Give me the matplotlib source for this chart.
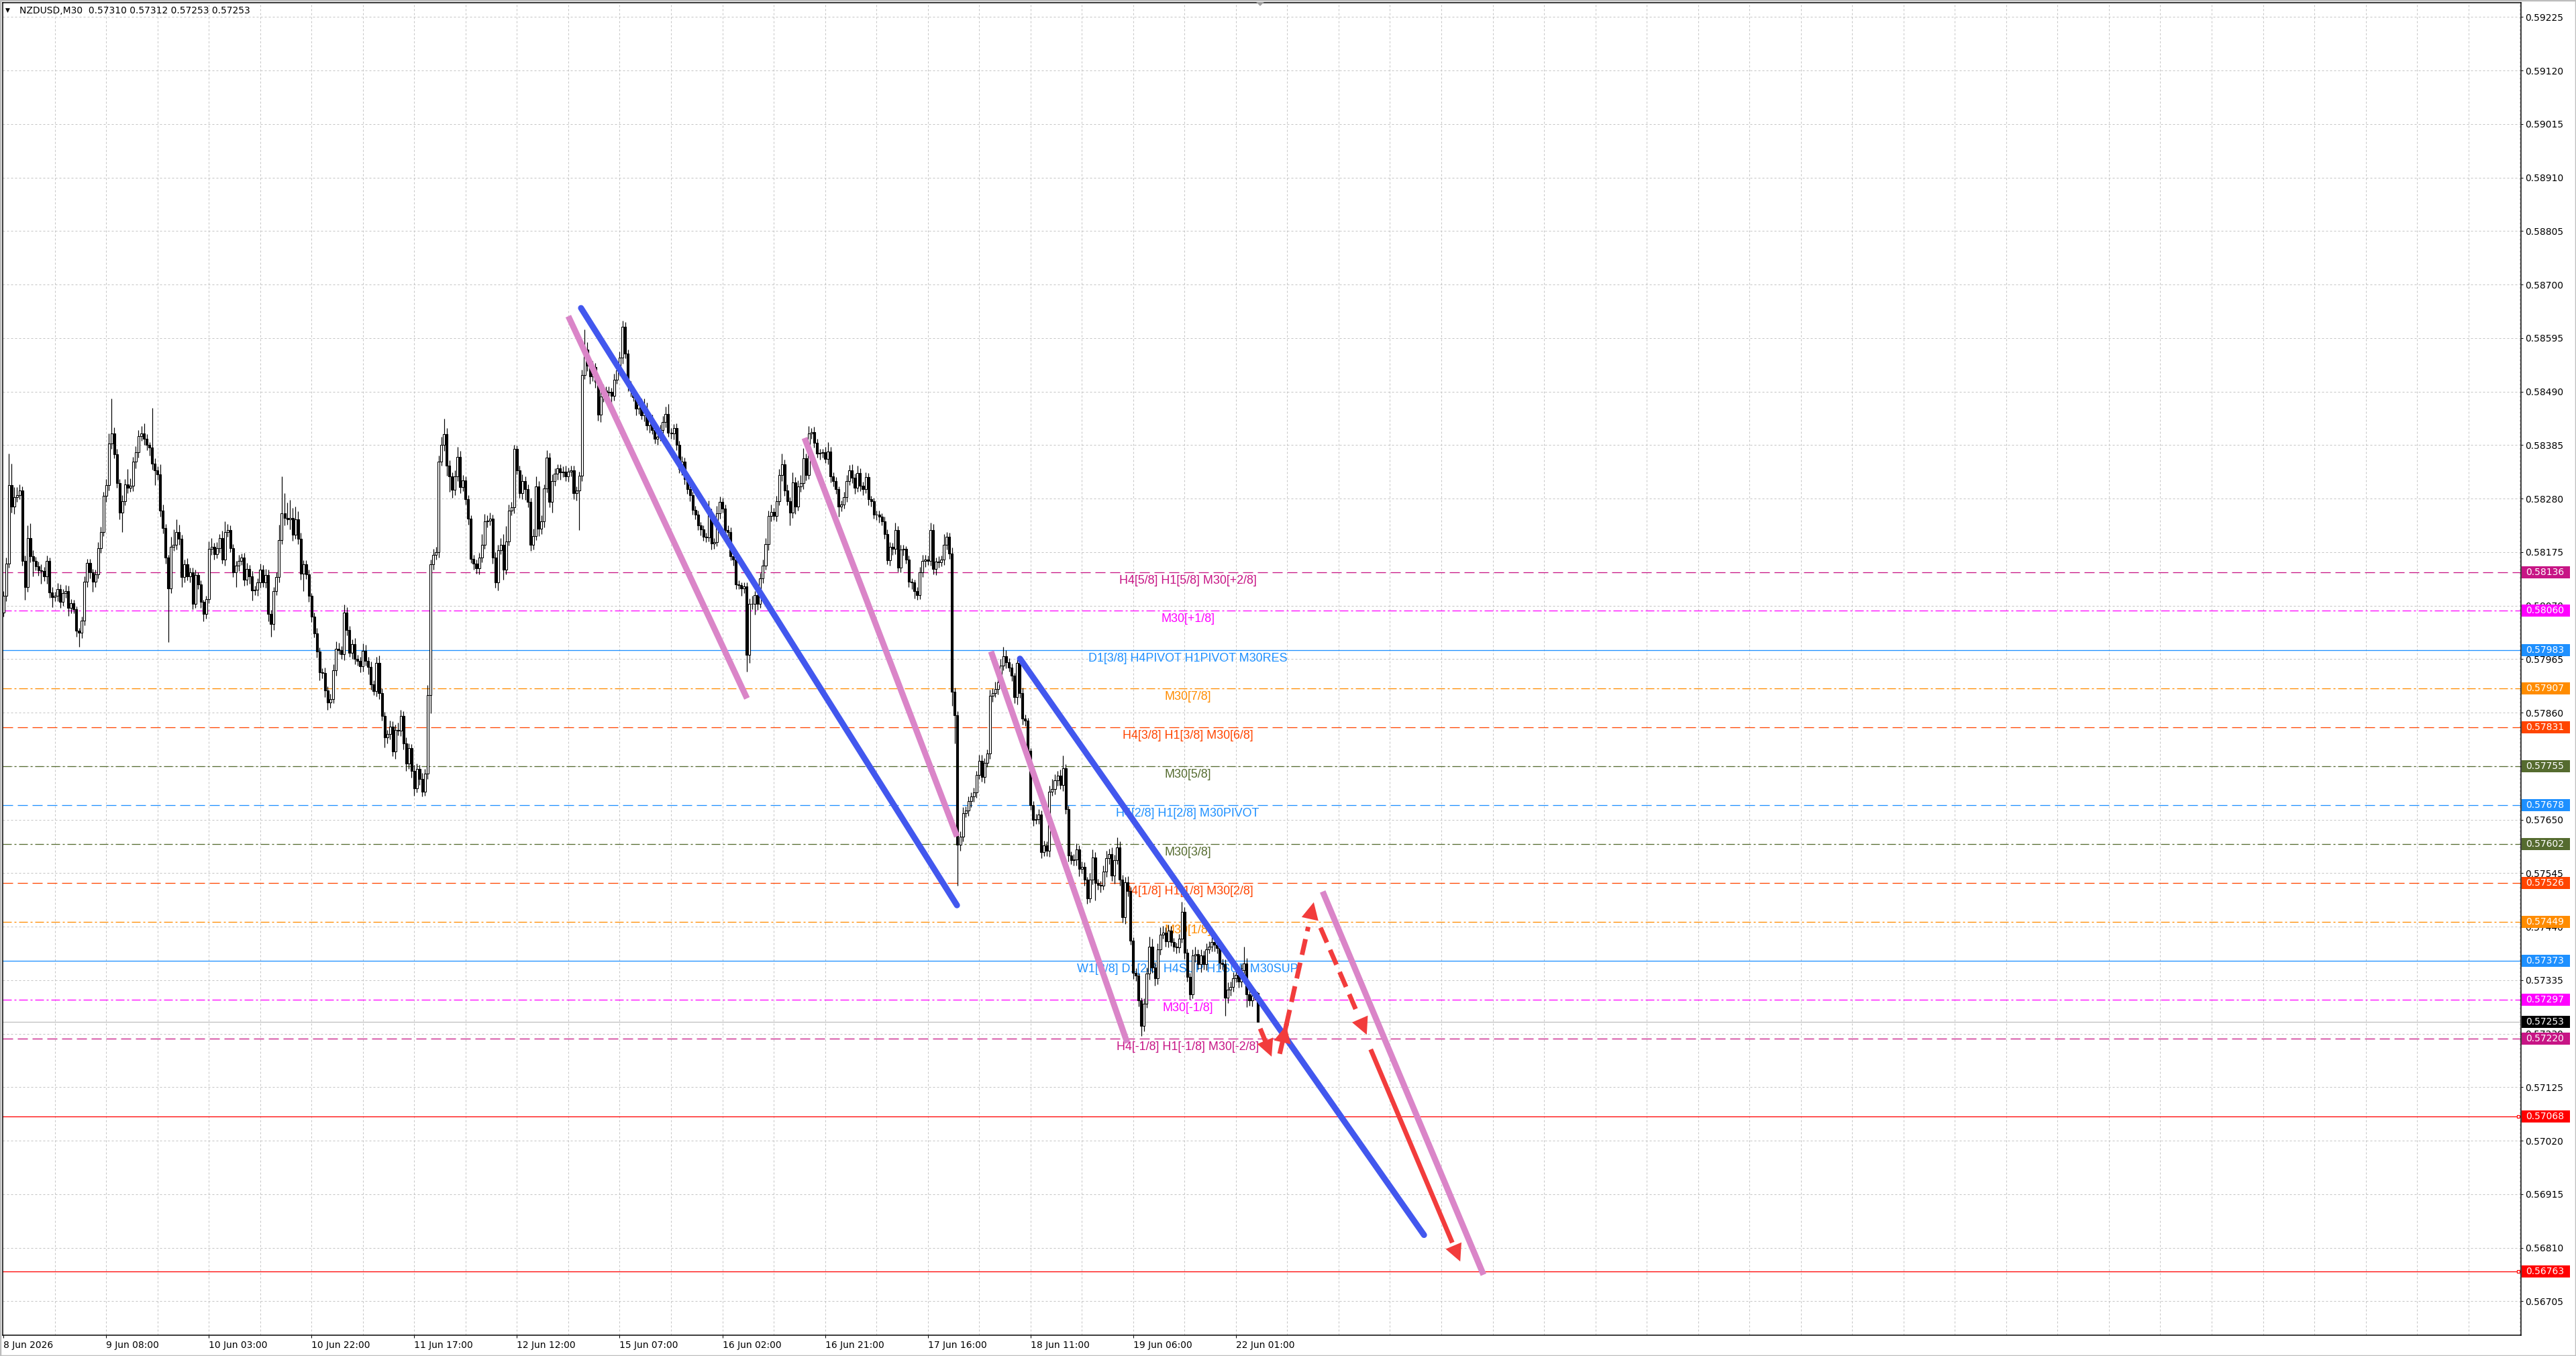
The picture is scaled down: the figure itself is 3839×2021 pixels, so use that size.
import matplotlib
matplotlib.use("Agg")
import matplotlib.pyplot as plt
import matplotlib.transforms as mtransforms
from matplotlib.patches import Rectangle, Polygon, FancyArrowPatch

plt.rcParams['font.family'] = ['DejaVu Sans']
plt.rcParams['lines.scale_dashes'] = False

W, H, DPI = 3839, 2021, 100
POINT = 1e-5

# ---------------- data ----------------
header_text = "NZDUSD,M30  0.57310 0.57312 0.57253 0.57253"

first_open = 58057   # points (x 1e-5)
closes = [
    58089, 58152, 58306, 58265, 58283, 58287, 58296, 58158, 58107, 58202,
    58167, 58158, 58147, 58139, 58138, 58128, 58158, 58096, 58087, 58089,
    58102, 58077, 58095, 58099, 58065, 58075, 58063, 58021, 58017, 58040,
    58117, 58154, 58136, 58117, 58131, 58183, 58215, 58286, 58306, 58388,
    58408, 58367, 58311, 58252, 58275, 58308, 58301, 58305, 58352, 58371,
    58402, 58408, 58398, 58385, 58380, 58349, 58336, 58327, 58256, 58222,
    58164, 58104, 58185, 58190, 58214, 58201, 58126, 58151, 58128, 58136,
    58073, 58130, 58112, 58077, 58054, 58083, 58181, 58185, 58171, 58183,
    58202, 58161, 58215, 58218, 58183, 58136, 58148, 58158, 58164, 58121,
    58142, 58128, 58100, 58101, 58115, 58140, 58115, 58130, 58054, 58034,
    58099, 58126, 58199, 58251, 58242, 58239, 58242, 58209, 58240, 58201,
    58133, 58151, 58132, 58089, 58048, 58016, 57980, 57939, 57938, 57903,
    57880, 57887, 57943, 57985, 57983, 57975, 58057, 58022, 57977, 57994,
    57965, 57961, 57951, 57981, 57961, 57950, 57915, 57902, 57957, 57898,
    57853, 57812, 57818, 57833, 57784, 57826, 57824, 57853, 57800, 57760,
    57790, 57745, 57712, 57750, 57730, 57705, 57740, 57894, 58151, 58169,
    58175, 58353, 58386, 58407, 58345, 58323, 58297, 58323, 58362, 58303,
    58316, 58279, 58241, 58162, 58153, 58143, 58165, 58190, 58235, 58237,
    58241, 58165, 58115, 58179, 58190, 58141, 58196, 58257, 58263, 58378,
    58335, 58291, 58315, 58298, 58273, 58190, 58206, 58304, 58221, 58235,
    58300, 58360, 58273, 58315, 58329, 58339, 58332, 58333, 58323, 58333,
    58335, 58291, 58296, 58325, 58523, 58572, 58541, 58520, 58538, 58509,
    58445, 58480, 58492, 58488, 58490, 58482, 58513, 58532, 58557, 58617,
    58564, 58501, 58492, 58479, 58456, 58465, 58443, 58456, 58424, 58437,
    58415, 58398, 58401, 58415, 58430, 58446, 58409, 58408, 58418, 58385,
    58338, 58353, 58318, 58298, 58287, 58258, 58248, 58228, 58220, 58205,
    58204, 58251, 58192, 58195, 58251, 58274, 58260, 58218, 58215, 58167,
    58161, 58112, 58110, 58104, 58108, 57973, 58074, 58073, 58091, 58074,
    58124, 58148, 58191, 58246, 58254, 58246, 58275, 58326, 58348, 58296,
    58275, 58252, 58312, 58265, 58304, 58311, 58359, 58326, 58408, 58411,
    58390, 58368, 58370, 58371, 58358, 58373, 58324, 58314, 58298, 58265,
    58268, 58283, 58314, 58336, 58321, 58301, 58330, 58305, 58299, 58322,
    58279, 58275, 58249, 58248, 58245, 58236, 58211, 58159, 58185, 58181,
    58218, 58145, 58180, 58181, 58160, 58117, 58115, 58099, 58091, 58136,
    58158, 58160, 58158, 58218, 58142, 58157, 58155, 58160, 58190, 58205,
    58172, 57901, 57855, 57601, 57617, 57663, 57668, 57686, 57695, 57703,
    57738, 57765, 57734, 57761, 57780, 57893, 57898, 57906, 57920, 57953,
    57971, 57959, 57948, 57932, 57891, 57958, 57899, 57848, 57844, 57785,
    57679, 57650, 57651, 57660, 57586, 57599, 57589, 57705, 57710, 57727,
    57736, 57718, 57751, 57671, 57580, 57570, 57572, 57592, 57554, 57558,
    57532, 57495, 57533, 57576, 57526, 57522, 57520, 57548, 57574, 57583,
    57540, 57571, 57595, 57533, 57458, 57527, 57510, 57413, 57350, 57344,
    57295, 57245, 57289, 57348, 57401, 57360, 57339, 57395, 57424, 57429,
    57411, 57432, 57410, 57401, 57399, 57416, 57469, 57389, 57342, 57307,
    57383, 57386, 57366, 57383, 57366, 57395, 57401, 57410, 57404, 57398,
    57369, 57366, 57300, 57316, 57322, 57339, 57345, 57332, 57354, 57368,
    57307, 57295, 57305, 57310, 57253,
]
wick_up = [
    10, 12, 63, 43, 20, 15, 12, 8, 10, 25,
    30, 12, 8, 10, 12, 8, 10, 6, 10, 8,
    12, 10, 8, 12, 10, 8, 6, 5, 5, 8,
    10, 8, 8, 6, 10, 12, 10, 8, 12, 20,
    69, 12, 10, 8, 12, 10, 30, 15, 10, 12,
    12, 15, 20, 8, 6, 78, 10, 8, 20, 12,
    8, 6, 20, 30, 25, 15, 8, 10, 12, 8,
    8, 10, 6, 8, 5, 6, 15, 18, 8, 12,
    8, 15, 20, 12, 10, 8, 10, 12, 8, 10,
    12, 8, 10, 8, 8, 12, 10, 12, 10, 8,
    8, 10, 30, 73, 40, 30, 35, 20, 25, 15,
    12, 8, 8, 8, 6, 8, 10, 8, 8, 10,
    8, 10, 12, 15, 12, 8, 15, 10, 8, 10,
    12, 8, 8, 15, 12, 8, 10, 8, 12, 15,
    10, 8, 8, 12, 10, 10, 15, 12, 10, 12,
    10, 8, 12, 10, 8, 12, 10, 20, 10, 12,
    10, 12, 15, 30, 12, 10, 8, 12, 20, 12,
    10, 8, 8, 6, 8, 8, 8, 20, 15, 10,
    12, 8, 10, 10, 12, 20, 30, 12, 10, 8,
    6, 10, 12, 8, 10, 8, 15, 20, 10, 12,
    8, 15, 10, 12, 10, 8, 8, 10, 12, 8,
    10, 10, 8, 8, 10, 40, 15, 10, 12, 8,
    8, 10, 12, 8, 10, 8, 12, 10, 12, 12,
    10, 8, 10, 8, 12, 10, 12, 20, 12, 8,
    8, 10, 8, 10, 12, 15, 20, 10, 8, 10,
    8, 10, 8, 8, 10, 6, 8, 8, 6, 8,
    8, 25, 10, 8, 15, 10, 8, 8, 10, 8,
    6, 8, 8, 6, 8, 8, 10, 15, 8, 10,
    10, 12, 12, 10, 15, 8, 10, 12, 20, 8,
    12, 8, 20, 10, 12, 15, 20, 10, 15, 8,
    10, 8, 8, 6, 10, 18, 8, 8, 8, 6,
    8, 10, 12, 10, 12, 8, 15, 10, 8, 10,
    8, 6, 6, 8, 8, 6, 8, 8, 10, 8,
    15, 8, 10, 8, 6, 8, 6, 6, 8, 10,
    12, 10, 8, 15, 12, 8, 10, 8, 20, 10,
    8, 12, 8, 8, 10, 12, 8, 10, 8, 10,
    8, 12, 12, 10, 8, 12, 10, 15, 10, 12,
    18, 12, 8, 8, 6, 8, 8, 10, 8, 6,
    6, 8, 10, 10, 8, 10, 8, 12, 20, 12,
    10, 12, 25, 8, 6, 8, 10, 12, 8, 10,
    8, 6, 12, 15, 10, 8, 8, 12, 15, 10,
    12, 10, 20, 12, 8, 10, 12, 8, 6, 8,
    6, 6, 10, 12, 20, 15, 10, 12, 15, 12,
    10, 12, 10, 8, 8, 10, 20, 10, 8, 8,
    12, 15, 10, 12, 10, 12, 10, 15, 12, 10,
    8, 8, 10, 15, 10, 12, 10, 8, 12, 33,
    10, 8, 6, 8, 2,
]
wick_dn = [
    8, 10, 8, 12, 15, 10, 8, 10, 25, 10,
    12, 30, 8, 10, 25, 10, 15, 10, 20, 8,
    10, 12, 8, 10, 15, 10, 8, 12, 28, 10,
    8, 10, 12, 20, 10, 8, 10, 8, 12, 10,
    10, 8, 10, 12, 38, 8, 10, 8, 10, 12,
    10, 8, 12, 10, 15, 12, 30, 10, 12, 10,
    12, 105, 10, 8, 10, 12, 20, 10, 8, 12,
    10, 8, 10, 12, 15, 10, 8, 12, 10, 8,
    10, 8, 12, 10, 8, 10, 30, 10, 8, 12,
    10, 15, 20, 10, 12, 10, 8, 10, 15, 25,
    12, 8, 10, 8, 15, 10, 20, 12, 8, 10,
    12, 35, 10, 12, 10, 8, 12, 15, 10, 12,
    15, 10, 8, 10, 8, 10, 12, 10, 8, 12,
    10, 8, 12, 10, 8, 15, 10, 8, 10, 12,
    8, 20, 12, 10, 10, 15, 8, 10, 12, 15,
    10, 12, 15, 8, 12, 10, 8, 10, 35, 10,
    8, 10, 8, 12, 20, 30, 15, 10, 8, 12,
    8, 10, 12, 8, 12, 10, 12, 10, 8, 12,
    10, 12, 10, 15, 8, 20, 10, 8, 10, 12,
    8, 10, 12, 20, 10, 12, 10, 8, 15, 10,
    12, 8, 10, 20, 10, 12, 15, 10, 8, 10,
    10, 12, 15, 78, 10, 8, 10, 15, 10, 12,
    12, 15, 10, 12, 10, 15, 10, 8, 10, 12,
    8, 10, 12, 8, 12, 10, 8, 12, 10, 15,
    8, 10, 12, 8, 12, 10, 8, 10, 12, 10,
    8, 12, 10, 8, 12, 10, 8, 10, 12, 8,
    10, 8, 12, 10, 8, 10, 8, 12, 10, 8,
    12, 10, 8, 15, 10, 33, 15, 10, 20, 12,
    8, 10, 8, 12, 10, 8, 10, 8, 12, 10,
    8, 25, 10, 15, 8, 10, 12, 10, 8, 10,
    10, 8, 12, 10, 8, 10, 12, 10, 8, 20,
    10, 8, 10, 8, 10, 12, 8, 10, 12, 8,
    12, 10, 8, 10, 12, 8, 10, 8, 10, 12,
    10, 8, 10, 12, 8, 10, 12, 15, 10, 8,
    10, 12, 8, 10, 10, 12, 10, 8, 10, 10,
    10, 27, 55, 80, 12, 10, 8, 10, 12, 10,
    10, 8, 10, 12, 8, 10, 12, 8, 10, 12,
    10, 12, 8, 10, 12, 15, 10, 12, 10, 8,
    10, 12, 8, 10, 12, 8, 10, 12, 8, 10,
    10, 8, 12, 10, 12, 8, 10, 12, 15, 10,
    12, 10, 8, 10, 35, 10, 12, 8, 10, 12,
    10, 15, 8, 12, 10, 12, 10, 8, 12, 10,
    12, 20, 10, 8, 12, 10, 15, 12, 10, 8,
    10, 12, 8, 10, 12, 10, 8, 12, 10, 10,
    8, 12, 10, 15, 10, 12, 8, 10, 12, 10,
    12, 10, 35, 10, 12, 10, 8, 12, 10, 12,
    25, 10, 12, 8, 0,
]

time_labels = ["8 Jun 2026", "9 Jun 08:00", "10 Jun 03:00", "10 Jun 22:00",
               "11 Jun 17:00", "12 Jun 12:00", "15 Jun 07:00", "16 Jun 02:00",
               "16 Jun 21:00", "17 Jun 16:00", "18 Jun 11:00", "19 Jun 06:00",
               "22 Jun 01:00"]
bars_per_label = 38

price_ticks = [0.59225, 0.59120, 0.59015, 0.58910, 0.58805, 0.58700, 0.58595,
               0.58490, 0.58385, 0.58280, 0.58175, 0.58070, 0.57965, 0.57860,
               0.57755, 0.57650, 0.57545, 0.57440, 0.57335, 0.57230, 0.57125,
               0.57020, 0.56915, 0.56810, 0.56705]

level_prices = [0.58136, 0.58060, 0.57983, 0.57907, 0.57831, 0.57755, 0.57678,
                0.57602, 0.57526, 0.57449, 0.57373, 0.57297, 0.57220]
level_names = ["H4[5/8] H1[5/8] M30[+2/8]", "M30[+1/8]",
               "D1[3/8] H4PIVOT H1PIVOT M30RES", "M30[7/8]",
               "H4[3/8] H1[3/8] M30[6/8]", "M30[5/8]",
               "H4[2/8] H1[2/8] M30PIVOT", "M30[3/8]",
               "H4[1/8] H1[1/8] M30[2/8]", "M30[1/8]",
               "W1[3/8] D1[2/8] H4SUP H1SUP M30SUP", "M30[-1/8]",
               "H4[-1/8] H1[-1/8] M30[-2/8]"]
level_colors = ["#C71585", "#FF00FF", "#1E90FF", "#FF8C00", "#FF4500", "#556B2F",
                "#1E90FF", "#556B2F", "#FF4500", "#FF8C00", "#1E90FF", "#FF00FF",
                "#C71585"]
level_styles = ["dash", "dashdot", "solid", "dashdot", "dash", "dashdot",
                "dash", "dashdot", "dash", "dashdot", "solid", "dashdot", "dash"]

current_price = 0.57253
target_prices = [0.57068, 0.56763]

# drawn objects: (bar0, price0, bar1, price1)
blue_lines = [(213.7, 0.58654, 352.8, 0.57482), (376.1, 0.57966, 525.6, 0.56835)]
pink_lines = [(209.0, 0.58638, 275.1, 0.57888), (296.4, 0.58399, 352.8, 0.57617),
              (365.4, 0.57980, 415.8, 0.57212), (488.1, 0.57509, 547.6, 0.56757)]
dashed_arrows = [(465.0, 0.57240, 469.2, 0.57185), (474.6, 0.57246, 484.8, 0.57488),
                 (487.3, 0.57438, 504.4, 0.57228)]
solid_arrows = [(506.2, 0.57195, 539.0, 0.56783)]
head_only = [(472.4, 0.57195, 474.6, 0.57246)]

# ---------------- layout ----------------
PX_PER_BAR = 4.028
X0_PX = 5.1
AX_L, AX_R, AX_T, AX_B = 4, 3757, 4, 1990
Y_REF_PRICE, Y_REF_PX, PX_PER_PRICE = 0.56705, 1939.4, 75952.0

def bar_at(px):
    return (px - X0_PX) / PX_PER_BAR

def price_at(py):
    return Y_REF_PRICE + (Y_REF_PX - py) / PX_PER_PRICE

fig = plt.figure(figsize=(W / DPI, H / DPI), dpi=DPI, facecolor='white')
ax = fig.add_axes([AX_L / W, 1 - AX_B / H, (AX_R - AX_L) / W, (AX_B - AX_T) / H])
ax.set_facecolor('white')
ax.set_xlim(bar_at(AX_L), bar_at(AX_R))
ax.set_ylim(price_at(AX_B), price_at(AX_T))

px = 0.72  # one pixel in points

# grid
grid_kw = dict(color='#C4C4C4', lw=1.0 * px, linestyle=(0, (3 * px, 3 * px)), zorder=0)
for p in price_ticks:
    ax.axhline(p, **grid_kw)
k = 1
while k * 19 < bar_at(AX_R):
    ax.axvline(k * 19, **grid_kw)
    k += 1

# level lines
style_map = {"solid": "-",
             "dash": (0, (15 * px, 7 * px)),
             "dashdot": (0, (13 * px, 4 * px, 3 * px, 4 * px))}
label_bar = bar_at(1770)
for p, name, c, st in zip(level_prices, level_names, level_colors, level_styles):
    ax.axhline(p, color=c, lw=1.3 * px, linestyle=style_map[st], zorder=1)
    ax.annotate(name, xy=(label_bar, p), xytext=(0, -17), textcoords='offset pixels',
                ha='center', va='baseline', color=c, fontsize=12.9,
                family=['Liberation Sans', 'DejaVu Sans'], zorder=2)

ax.axhline(current_price, color='#C0C0C0', lw=1.3 * px, zorder=1)
for p in target_prices:
    ax.axhline(p, color='#FF0000', lw=1.3 * px, zorder=1)
    ax.plot([bar_at(3753)], [p], marker='s', ms=5 * px, mfc='white', mec='#FF0000',
            mew=1.2 * px, zorder=3, clip_on=False)

# candles
opens = [first_open] + closes[:-1]
xs = list(range(len(closes)))
for i, o, c, wu, wd in zip(xs, opens, closes, wick_up, wick_dn):
    hi = (max(o, c) + wu) * POINT
    lo = (min(o, c) - wd) * POINT
    ax.vlines(i, lo, hi, color='black', lw=1.2 * px, zorder=4)
    bottom = min(o, c) * POINT
    height = max(abs(c - o), 0.4) * POINT
    face = 'white' if c >= o else 'black'
    ax.bar(i, height, bottom=bottom, width=0.75, color=face, edgecolor='black',
           linewidth=1.1 * px, zorder=5)

# trend lines
for b0, p0, b1, p1 in blue_lines:
    ax.plot([b0, b1], [p0, p1], color='#4257EE', lw=9 * px, solid_capstyle='round', zorder=6)
for b0, p0, b1, p1 in pink_lines:
    ax.plot([b0, b1], [p0, p1], color='#DA85C8', lw=9 * px, solid_capstyle='butt', zorder=6)

ARROW_C = '#F23C3C'
def head(b0, p0, b1, p1):
    a = FancyArrowPatch((b0, p0), (b1, p1), arrowstyle='-|>', mutation_scale=46,
                        color=ARROW_C, lw=0, shrinkA=0, shrinkB=0, zorder=7)
    ax.add_patch(a)

for b0, p0, b1, p1 in dashed_arrows:
    f = 0.8
    bm, pm = b0 + (b1 - b0) * f, p0 + (p1 - p0) * f
    ax.plot([b0, bm], [p0, pm], color=ARROW_C, lw=7 * px,
            linestyle=(0, (24 * px, 12 * px)), solid_capstyle='butt', zorder=7)
    head(b0 + (b1 - b0) * 0.6, p0 + (p1 - p0) * 0.6, b1, p1)
for b0, p0, b1, p1 in solid_arrows:
    bm, pm = b0 + (b1 - b0) * 0.9, p0 + (p1 - p0) * 0.9
    ax.plot([b0, bm], [p0, pm], color=ARROW_C, lw=7 * px, zorder=7)
    head(b0 + (b1 - b0) * 0.8, p0 + (p1 - p0) * 0.8, b1, p1)
for b0, p0, b1, p1 in head_only:
    ax.plot([b0, b1], [p0, p1], color=ARROW_C, lw=7 * px, zorder=7)
    head(b0, p0, b1, p1)

# axes styling
for s in ax.spines.values():
    s.set_color('black')
    s.set_linewidth(1.5 * px)
ax.yaxis.tick_right()
ax.set_yticks(price_ticks)
ax.set_yticklabels(["%.5f" % p for p in price_ticks])
ax.tick_params(axis='y', direction='out', length=3 * px, width=1 * px, pad=3 * px,
               labelsize=10, colors='black')
xt = [k * bars_per_label for k in range(len(time_labels))]
ax.set_xticks(xt)
ax.set_xticklabels(time_labels)
ax.tick_params(axis='x', direction='out', length=4 * px, width=1 * px, pad=4 * px,
               labelsize=10, colors='black')
for t in ax.get_xticklabels():
    t.set_horizontalalignment('left')

# right-side price tags
trans = mtransforms.blended_transform_factory(fig.transFigure, ax.transData)
tag_h = 18 / PX_PER_PRICE
tags = list(zip(level_prices, level_colors)) + [(current_price, '#000000')] + \
       [(p, '#FF0000') for p in target_prices]
for p, c in tags:
    ax.add_patch(Rectangle((3758 / W, p - tag_h / 2), 72 / W, tag_h, transform=trans,
                           facecolor=c, edgecolor='none', clip_on=False, zorder=10))
    ax.text(3764 / W, p, "%.5f" % p, transform=trans, color='white', fontsize=10,
            ha='left', va='center', clip_on=False, zorder=11)

# header
fig.text(29 / W, 1 - 16 / H, header_text, fontsize=10, ha='left', va='center', color='black')
fig.text(8 / W, 1 - 15 / H, "\u25BC", fontsize=6.5, ha='left', va='center', color='black')

# chart shift marker at top
ident = mtransforms.IdentityTransform()
fig.patches.append(Polygon([[1872, H - 3], [1884, H - 3], [1878, H - 9]], closed=True,
                           transform=ident, facecolor='#A0A0A0', edgecolor='none'))
# window border
fig.patches.append(Rectangle((0, 0), 1, 1, transform=fig.transFigure, fill=False,
                             edgecolor='#BDBDBD', lw=2.5))

fig.savefig("out.png", dpi=DPI, facecolor='white')
